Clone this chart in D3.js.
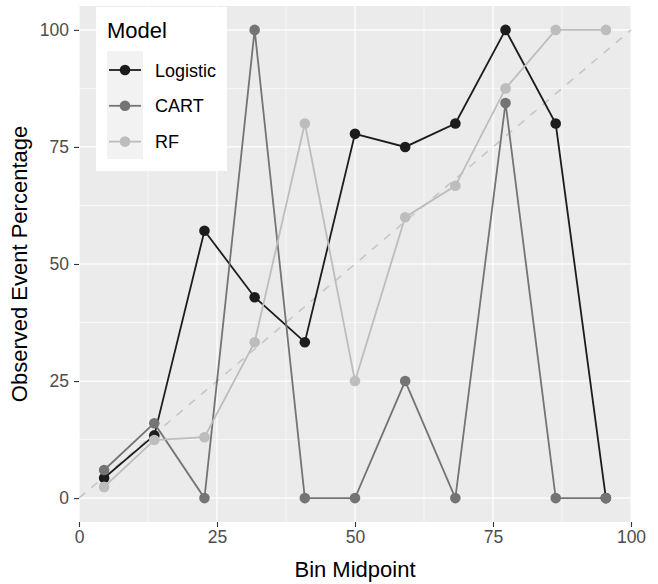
<!DOCTYPE html>
<html>
<head>
<meta charset="utf-8">
<script src="https://cdn.jsdelivr.net/npm/d3@7"></script>
<style>
  body { margin: 0; background: #fff; }
  text { font-family: "Liberation Sans", Arial, sans-serif; }
</style>
</head>
<body>
<div id="chart"></div>
<script>
// bin midpoints (11 equal bins over 0..100)
const binMid = [4.55, 13.64, 22.73, 31.82, 40.91, 50, 59.09, 68.18, 77.27, 86.36, 95.45];
const models = ["Logistic", "CART", "RF"];
const logisticVals = [4.3, 13.4, 57.1, 42.9, 33.3, 77.8, 75, 80, 100, 80, 0];
const cartVals = [6.0, 16.0, 0, 100, 0, 0, 25, 0, 84.4, 0, 0];
const rfVals = [2.4, 12.4, 13.0, 33.3, 80, 25, 60, 66.7, 87.5, 100, 100];
const xTicks = [0, 25, 50, 75, 100];
const yTicks = [0, 25, 50, 75, 100];

const modelColors = { Logistic: "#1c1c1c", CART: "#747474", RF: "#bdbdbd" };
const series = [
  { name: "Logistic", values: logisticVals },
  { name: "CART", values: cartVals },
  { name: "RF", values: rfVals }
];

const width = 658, height = 584;
const margin = { top: 6, right: 27, bottom: 62, left: 80 };

const svg = d3.select("#chart").append("svg")
  .attr("width", width).attr("height", height);

const x = d3.scaleLinear().domain([0, 100]).range([margin.left - 1, width - margin.right]);
const y = d3.scaleLinear().domain([-5.1, 105.1]).range([height - margin.bottom, margin.top]);

const panelX0 = x.range()[0], panelX1 = x.range()[1];
const panelY0 = y.range()[1], panelY1 = y.range()[0];

// panel background
svg.append("rect")
  .attr("x", panelX0).attr("y", panelY0)
  .attr("width", panelX1 - panelX0).attr("height", panelY1 - panelY0)
  .attr("fill", "#ebebeb");

// minor grid
const minor = [12.5, 37.5, 62.5, 87.5];
svg.append("g").selectAll("line").data(minor).join("line")
  .attr("x1", d => x(d)).attr("x2", d => x(d))
  .attr("y1", panelY0).attr("y2", panelY1)
  .attr("stroke", "#fff").attr("stroke-width", 0.6);
svg.append("g").selectAll("line").data(minor).join("line")
  .attr("y1", d => y(d)).attr("y2", d => y(d))
  .attr("x1", panelX0).attr("x2", panelX1)
  .attr("stroke", "#fff").attr("stroke-width", 0.6);

// major grid
svg.append("g").selectAll("line").data(xTicks).join("line")
  .attr("x1", d => x(d)).attr("x2", d => x(d))
  .attr("y1", panelY0).attr("y2", panelY1)
  .attr("stroke", "#fff").attr("stroke-width", 1.2);
svg.append("g").selectAll("line").data(yTicks).join("line")
  .attr("y1", d => y(d)).attr("y2", d => y(d))
  .attr("x1", panelX0).attr("x2", panelX1)
  .attr("stroke", "#fff").attr("stroke-width", 1.2);

// reference diagonal
svg.append("line")
  .attr("x1", x(0)).attr("y1", y(0))
  .attr("x2", x(100)).attr("y2", y(100))
  .attr("stroke", "#c6c6c6").attr("stroke-width", 1.6)
  .attr("stroke-dasharray", "8,8");

// lines + points
const line = d3.line().x((d, i) => x(binMid[i])).y(d => y(d));
const plot = svg.append("g");
series.forEach(s => {
  plot.append("path")
    .attr("d", line(s.values))
    .attr("fill", "none")
    .attr("stroke", modelColors[s.name])
    .attr("stroke-width", 1.8);
});
series.forEach(s => {
  plot.append("g").selectAll("circle").data(s.values).join("circle")
    .attr("cx", (d, i) => x(binMid[i]))
    .attr("cy", d => y(d))
    .attr("r", 5.3)
    .attr("fill", modelColors[s.name]);
});

// axes
const xAxis = svg.append("g")
  .attr("transform", `translate(0,${panelY1})`)
  .call(d3.axisBottom(x).tickValues(xTicks).tickSize(5).tickPadding(4));
const yAxis = svg.append("g")
  .attr("transform", `translate(${panelX0},0)`)
  .call(d3.axisLeft(y).tickValues(yTicks).tickSize(5).tickPadding(5));
[xAxis, yAxis].forEach(a => {
  a.attr("font-size", null).attr("font-family", null);
  a.select(".domain").remove();
  a.selectAll(".tick line").attr("stroke", "#333").attr("stroke-width", 1.1);
  a.selectAll(".tick text").attr("fill", "#4d4d4d")
    .attr("font-size", 17.5).style("font-size", "17.5px");
});

// axis titles
svg.append("text")
  .attr("x", (panelX0 + panelX1) / 2).attr("y", 577)
  .attr("text-anchor", "middle")
  .style("font-size", "22px").attr("fill", "#000")
  .text("Bin Midpoint");
svg.append("text")
  .attr("transform", `translate(27,${(panelY0 + panelY1) / 2}) rotate(-90)`)
  .attr("text-anchor", "middle")
  .style("font-size", "22px").attr("fill", "#000")
  .text("Observed Event Percentage");

// legend
const legend = svg.append("g").attr("transform", "translate(96,7)");
legend.append("rect")
  .attr("width", 131).attr("height", 164).attr("fill", "#fff");
legend.append("text")
  .attr("x", 11).attr("y", 30.5)
  .style("font-size", "22px").attr("fill", "#000")
  .text("Model");
legend.append("rect")
  .attr("x", 11).attr("y", 44).attr("width", 36).attr("height", 108)
  .attr("fill", "#f2f2f2");
models.forEach((m, i) => {
  const cy = 63 + i * 35.8;
  legend.append("line")
    .attr("x1", 13).attr("x2", 45).attr("y1", cy).attr("y2", cy)
    .attr("stroke", modelColors[m]).attr("stroke-width", 1.8);
  legend.append("circle")
    .attr("cx", 29).attr("cy", cy).attr("r", 5.3)
    .attr("fill", modelColors[m]);
  legend.append("text")
    .attr("x", 59).attr("y", cy + 6.5)
    .style("font-size", "18px").attr("fill", "#000")
    .text(m);
});
</script>
</body>
</html>
